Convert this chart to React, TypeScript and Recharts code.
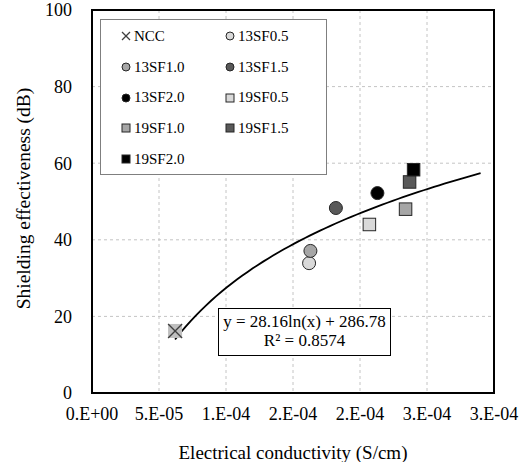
import {
  CartesianGrid,
  Legend,
  ReferenceArea,
  Scatter,
  ScatterChart,
  XAxis,
  YAxis,
} from "recharts";

const FONT = "Liberation Serif, Tinos, DejaVu Serif, serif";
const W = 525;
const H = 462;

// mixes, conductivity (S/cm) and shielding (dB)
const mixes = ["NCC", "13SF0.5", "13SF1.0", "13SF1.5", "13SF2.0", "19SF0.5", "19SF1.0", "19SF1.5", "19SF2.0"];
const conductivity = [6.2e-5, 1.62e-4, 1.63e-4, 1.82e-4, 2.13e-4, 2.07e-4, 2.34e-4, 2.37e-4, 2.4e-4];
const shielding = [16.2, 33.9, 37.1, 48.3, 52.2, 44.0, 48.0, 55.1, 58.3];

const markerKinds = ["cross", "circle", "circle", "circle", "circle", "square", "square", "square", "square"];
const markerFills = ["#bfbfbf", "#d9d9d9", "#a6a6a6", "#595959", "#000000", "#d9d9d9", "#a6a6a6", "#595959", "#000000"];

const xTicks = [0, 5e-5, 1e-4, 1.5e-4, 2e-4, 2.5e-4, 3e-4];
const xTickLabels = ["0.E+00", "5.E-05", "1.E-04", "2.E-04", "2.E-04", "3.E-04", "3.E-04"];
const yTicks = [0, 20, 40, 60, 80, 100];

// logarithmic trendline as printed on the chart
const trendA = 28.16;
const trendB = 286.78;
const trendR2 = 0.8574;
const trendFrom = 6.2e-5;
const trendTo = 2.9e-4;
const trend = Array.from({ length: 60 }, (_, i) => {
  const x = trendFrom + ((trendTo - trendFrom) * i) / 59;
  return { x, y: trendA * Math.log(x) + trendB };
});

function Marker({ kind, fill, cx, cy, s, legend }: any) {
  if (kind === "cross") {
    const h = s / 2;
    return (
      <g>
        {!legend && <rect x={cx - h} y={cy - h} width={s} height={s} fill={fill} />}
        <line x1={cx - h} y1={cy - h} x2={cx + h} y2={cy + h} stroke="#404040" strokeWidth={1.3} />
        <line x1={cx - h} y1={cy + h} x2={cx + h} y2={cy - h} stroke="#404040" strokeWidth={1.3} />
      </g>
    );
  }
  if (kind === "circle") {
    return <circle cx={cx} cy={cy} r={s / 2} fill={fill} stroke="#262626" strokeWidth={1} />;
  }
  return <rect x={cx - s / 2} y={cy - s / 2} width={s} height={s} fill={fill} stroke="#262626" strokeWidth={1} />;
}

function LegendBox() {
  return (
    <div
      style={{
        width: 206,
        height: 153,
        border: "1px solid #7f7f7f",
        background: "#fff",
        boxSizing: "content-box",
        display: "grid",
        gridTemplateColumns: "104px 104px",
        gridAutoRows: "30.7px",
        paddingLeft: 19,
        paddingTop: 1,
        fontFamily: FONT,
        fontSize: 15,
        color: "#000",
      }}
    >
      {mixes.map((m, i) => (
        <div key={m} style={{ display: "flex", alignItems: "center", gap: 2 }}>
          <svg width={12} height={12}>
            <Marker kind={markerKinds[i]} fill={markerFills[i]} cx={6} cy={6} s={8} legend />
          </svg>
          <span>{m}</span>
        </div>
      ))}
    </div>
  );
}

const tickStyle = { fontSize: 18, fill: "#000", fontFamily: FONT };

export default function App() {
  return (
    <div style={{ position: "absolute", left: 0, top: 0, width: W, height: H, background: "#fff", fontFamily: FONT }}>
      <ScatterChart width={W} height={H} margin={{ top: 10, right: 31, bottom: 0, left: 0 }} style={{ fontFamily: FONT }}>
        <CartesianGrid stroke="#c4c4c4" strokeDasharray="3 3" />
        <XAxis
          type="number"
          dataKey="x"
          domain={[0, 3e-4]}
          ticks={xTicks}
          tickFormatter={(_v: number, i: number) => xTickLabels[i]}
          height={69}
          axisLine={false}
          tickLine={false}
          tickSize={0}
          tickMargin={14}
          tick={tickStyle}
          interval={0}
          allowDataOverflow
          label={{
            value: "Electrical conductivity (S/cm)",
            position: "insideBottom",
            offset: 3,
            style: { fontSize: 19, fill: "#000", fontFamily: FONT },
          }}
        />
        <XAxis
          xAxisId="tk"
          type="number"
          domain={[0, 3e-4]}
          ticks={xTicks}
          mirror
          tick={false}
          tickSize={5}
          axisLine={false}
          tickLine={{ stroke: "#000", strokeWidth: 1.5 }}
          interval={0}
        />
        <YAxis
          type="number"
          dataKey="y"
          domain={[0, 100]}
          ticks={yTicks}
          width={92}
          axisLine={false}
          tickLine={false}
          tickSize={0}
          tickMargin={20}
          tick={tickStyle}
          interval={0}
          label={{
            content: ({ viewBox }: any) => {
              const x = viewBox.x + 23;
              const y = viewBox.y + viewBox.height / 2 - 3;
              return (
                <text
                  x={x}
                  y={y}
                  transform={`rotate(-90 ${x} ${y})`}
                  textAnchor="middle"
                  dominantBaseline="central"
                  style={{ fontSize: 19.5, fill: "#000", fontFamily: FONT }}
                >
                  Shielding effectiveness (dB)
                </text>
              );
            },
          }}
        />
        <YAxis
          yAxisId="tk"
          type="number"
          domain={[0, 100]}
          ticks={yTicks}
          mirror
          tick={false}
          tickSize={5}
          axisLine={false}
          tickLine={{ stroke: "#000", strokeWidth: 1.5 }}
          interval={0}
        />
        <ReferenceArea x1={0} x2={3e-4} y1={0} y2={100} fill="none" stroke="#000" strokeWidth={2} ifOverflow="visible" />
        <Legend
          layout="vertical"
          align="center"
          verticalAlign="middle"
          wrapperStyle={{ left: 100, top: 19, width: 208, height: 155 }}
          content={() => <LegendBox />}
        />
        <Scatter
          data={trend}
          line={{ stroke: "#000", strokeWidth: 1.8 }}
          shape={() => <g />}
          legendType="none"
          isAnimationActive={false}
        />
        {mixes.map((m, i) => (
          <Scatter
            key={m}
            name={m}
            data={[{ x: conductivity[i], y: shielding[i] }]}
            isAnimationActive={false}
            shape={(p: any) => (
              <Marker
                kind={markerKinds[i]}
                fill={markerFills[i]}
                cx={p.cx}
                cy={p.cy}
                s={markerKinds[i] === "circle" ? 13 : markerKinds[i] === "square" ? 12.5 : 14}
              />
            )}
          />
        ))}
      </ScatterChart>
      <div
        style={{
          position: "absolute",
          left: 218,
          top: 308,
          width: 171,
          height: 43,
          border: "1px solid #000",
          background: "#fff",
          fontFamily: FONT,
          fontSize: 17,
          lineHeight: "19px",
          textAlign: "center",
          color: "#000",
          paddingTop: 3,
          boxSizing: "content-box",
        }}
      >
        <div>y = {trendA}ln(x) + {trendB}</div>
        <div>R² = {trendR2}</div>
      </div>
    </div>
  );
}
